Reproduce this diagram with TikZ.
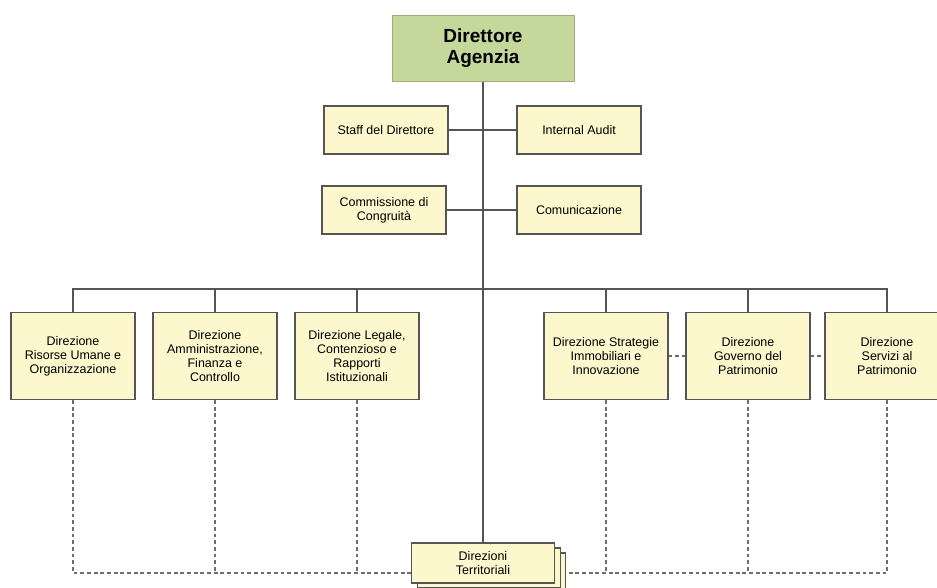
\documentclass[tikz,border=0pt]{standalone}
\usepackage{fontspec}
\setmainfont{Liberation Sans}
\usetikzlibrary{positioning, backgrounds}

\definecolor{boxyellow}{HTML}{FCF7CC}
\definecolor{boxgreen}{HTML}{C5D89C}
\definecolor{edgegray}{HTML}{555555}

\tikzset{
  unitbox/.style={draw=edgegray, fill=boxyellow, line width=0.6pt, align=center, inner sep=1pt, font=\fontsize{7.1}{8.0}\selectfont},
  staffbox/.style={unitbox, minimum width=2.48cm, minimum height=0.96cm},
  dirbox/.style={unitbox, minimum width=2.48cm, minimum height=1.74cm},
  terrbox/.style={unitbox, minimum width=2.86cm, minimum height=0.8cm},
  link/.style={draw=edgegray, line width=0.6pt},
  dashlink/.style={draw=edgegray!85, line width=0.6pt, dash pattern=on 2.2pt off 1.6pt},
}

\begin{document}
\begin{tikzpicture}[x=0.02cm, y=-0.02cm]
  \useasboundingbox (0,0) rectangle (937,588);

  % vertice
  \node (dir) at (483, 48) [draw=boxgreen!80!black, fill=boxgreen, minimum width=3.64cm, minimum height=1.32cm, align=center, font=\bfseries\fontsize{10.8}{12}\selectfont] {Direttore\\Agenzia};

  % staff
  \node (staff) at (386, 130) [staffbox] {Staff del Direttore};
  \node (audit) at (579, 130) [staffbox] {Internal Audit};
  \node (comm) at (384, 210) [staffbox] {Commissione di\\Congruità};
  \node (comun) at (579, 210) [staffbox] {Comunicazione};

  % direzioni centrali
  \node (risorse) at (73, 356) [dirbox] {Direzione\\Risorse Umane e\\Organizzazione};
  \node (ammin) at (215, 356) [dirbox] {Direzione\\Amministrazione,\\Finanza e\\Controllo};
  \node (legale) at (357, 356) [dirbox] {Direzione Legale,\\Contenzioso e\\Rapporti\\Istituzionali};
  \node (strat) at (606, 356) [dirbox] {Direzione Strategie\\Immobiliari e\\Innovazione};
  \node (gov) at (748, 356) [dirbox] {Direzione\\Governo del\\Patrimonio};
  \node (servizi) at (887, 356) [dirbox] {Direzione\\Servizi al\\Patrimonio};

  % direzioni territoriali
  \node (terr3) at (494, 573) [terrbox] {};
  \node (terr2) at (489, 568) [terrbox] {};
  \node (terr) at (483, 563) [terrbox] {Direzioni\\Territoriali};

  \coordinate (bus) at (483, 289);

  \begin{scope}[on background layer]
    \draw[link] (dir) -- (terr);
    \draw[link] (staff) -- (audit);
    \draw[link] (comm) -- (comun);
    \draw[link] (risorse.north) |- (bus) -| (servizi.north);
    \draw[link] (ammin.north) |- (bus);
    \draw[link] (legale.north) |- (bus);
    \draw[link] (strat.north) |- (bus);
    \draw[link] (gov.north) |- (bus);

    \draw[dashlink] (strat) -- (gov);
    \draw[dashlink] (gov) -- (servizi);
    \draw[dashlink] (risorse.south) |- (terr3.west);
    \draw[dashlink] (servizi.south) |- (terr3.east);
    \draw[dashlink] (ammin.south) -- (ammin.south |- terr3.west);
    \draw[dashlink] (legale.south) -- (legale.south |- terr3.west);
    \draw[dashlink] (strat.south) -- (strat.south |- terr3.east);
    \draw[dashlink] (gov.south) -- (gov.south |- terr3.east);
  \end{scope}
\end{tikzpicture}
\end{document}
